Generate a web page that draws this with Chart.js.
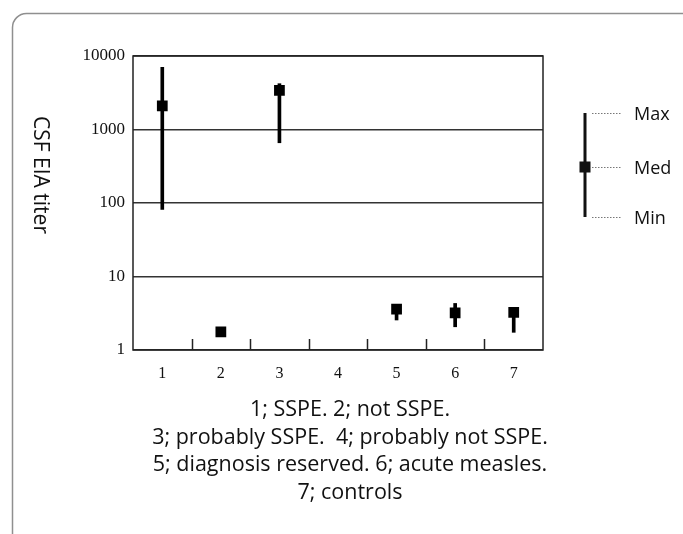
<!DOCTYPE html>
<html>
<head>
<meta charset="utf-8">
<script src="https://cdn.jsdelivr.net/npm/chart.js@4.4.0/dist/chart.umd.min.js"></script>
<style>
  html, body { margin: 0; padding: 0; background: #fff; }
  #wrap { width: 683px; height: 534px; }
</style>
</head>
<body>
<div id="wrap"><canvas id="grafico" width="683" height="534"></canvas></div>
<script>
// data (log scale)
const groups = ['1', '2', '3', '4', '5', '6', '7'];
const medians = [2100, 1.77, 3400, null, 3.6, 3.2, 3.25];
const mins = [82, null, 660, null, 2.56, 2.07, 1.74];
const maxs = [7000, null, 4200, null, 3.8, 4.3, 3.5];
const yTicks = [1, 10, 100, 1000, 10000];
const yTitle = 'CSF EIA titer';
const legendLabels = ['Max', 'Med', 'Min'];
const captionLines = [
  '1; SSPE. 2; not SSPE.',
  '3; probably SSPE.  4; probably not SSPE.',
  '5; diagnosis reserved. 6; acute measles.',
  '7; controls'
];

const SANS = '"Open Sans", "Liberation Sans", sans-serif';
const SERIF = '"Liberation Serif", "DejaVu Serif", serif';

const ranges = groups.map((g, i) => (mins[i] == null ? null : [mins[i], maxs[i]]));

// frame, tick marks, labels and legend drawn around the chart
const extras = {
  id: 'extras',
  beforeDraw(chart) {
    const ctx = chart.ctx;
    ctx.save();
    ctx.strokeStyle = '#8f8f8f';
    ctx.lineWidth = 1.5;
    ctx.beginPath();
    ctx.roundRect(12.5, 13.5, 700, 540, 14);
    ctx.stroke();
    ctx.restore();
  },
  beforeDatasetsDraw(chart) {
    const { ctx, chartArea: a, scales: { x } } = chart;
    ctx.save();
    ctx.strokeStyle = '#222';
    ctx.lineWidth = 1.5;
    ctx.strokeRect(a.left, a.top, a.right - a.left, a.bottom - a.top);
    ctx.beginPath();
    for (let i = 0; i < groups.length - 1; i++) {
      const xb = Math.round((x.getPixelForValue(i) + x.getPixelForValue(i + 1)) / 2) + 0.5;
      ctx.moveTo(xb, a.bottom);
      ctx.lineTo(xb, a.bottom - 11);
    }
    ctx.stroke();
    ctx.restore();
  },
  afterDraw(chart) {
    const ctx = chart.ctx;
    ctx.save();
    ctx.fillStyle = '#111';

    // y title, reads top to bottom
    ctx.save();
    ctx.translate(40, 175);
    ctx.rotate(Math.PI / 2);
    ctx.font = '21px ' + SANS;
    ctx.textAlign = 'center';
    ctx.textBaseline = 'middle';
    ctx.fillText(yTitle, 0, 0);
    ctx.restore();

    // legend key
    const lx = 585, ys = [113, 167, 217];
    ctx.fillRect(lx - 1.5, ys[0], 3, ys[2] - ys[0]);
    ctx.fillRect(lx - 5.5, ys[1] - 5.5, 11, 11);
    ctx.strokeStyle = '#777';
    ctx.lineWidth = 1;
    ctx.setLineDash([1.5, 1.5]);
    ys.forEach(y => {
      ctx.beginPath();
      ctx.moveTo(592, y + 0.5);
      ctx.lineTo(622, y + 0.5);
      ctx.stroke();
    });
    ctx.setLineDash([]);
    ctx.font = '18px ' + SANS;
    ctx.textAlign = 'left';
    ctx.textBaseline = 'middle';
    legendLabels.forEach((t, i) => ctx.fillText(t, 634, ys[i] + 2));

    // caption
    ctx.font = '21.5px ' + SANS;
    ctx.textAlign = 'center';
    captionLines.forEach((t, i) => ctx.fillText(t, 350, 410 + i * 27.5));
    ctx.restore();
  }
};

new Chart(document.getElementById('grafico'), {
  type: 'bar',
  data: {
    labels: groups,
    datasets: [
      {
        type: 'bar',
        data: ranges,
        backgroundColor: '#000',
        barThickness: 3,
        order: 2
      },
      {
        type: 'line',
        data: medians,
        showLine: false,
        pointStyle: 'rect',
        pointRadius: 7.6,
        pointBackgroundColor: '#000',
        pointBorderWidth: 0,
        order: 1
      }
    ]
  },
  options: {
    responsive: false,
    animation: false,
    layout: { padding: { left: 0, top: 56, right: 140, bottom: 154 } },
    plugins: { legend: { display: false }, tooltip: { enabled: false } },
    scales: {
      x: {
        type: 'category',
        offset: true,
        grid: { display: false },
        border: { display: false },
        ticks: { color: '#111', font: { family: SERIF, size: 16 }, padding: 6 },
        afterFit(s) { s.height = 30; }
      },
      y: {
        type: 'logarithmic',
        min: 1,
        max: 10000,
        afterBuildTicks(s) { s.ticks = yTicks.map(v => ({ value: v })); },
        grid: { drawTicks: false, color: '#333', lineWidth: 1.5 },
        border: { display: false },
        ticks: {
          color: '#111',
          font: { family: SERIF, size: 17 },
          padding: 8,
          callback: v => String(v)
        },
        afterFit(s) { s.width = 133; }
      }
    }
  },
  plugins: [extras]
});
</script>
</body>
</html>
